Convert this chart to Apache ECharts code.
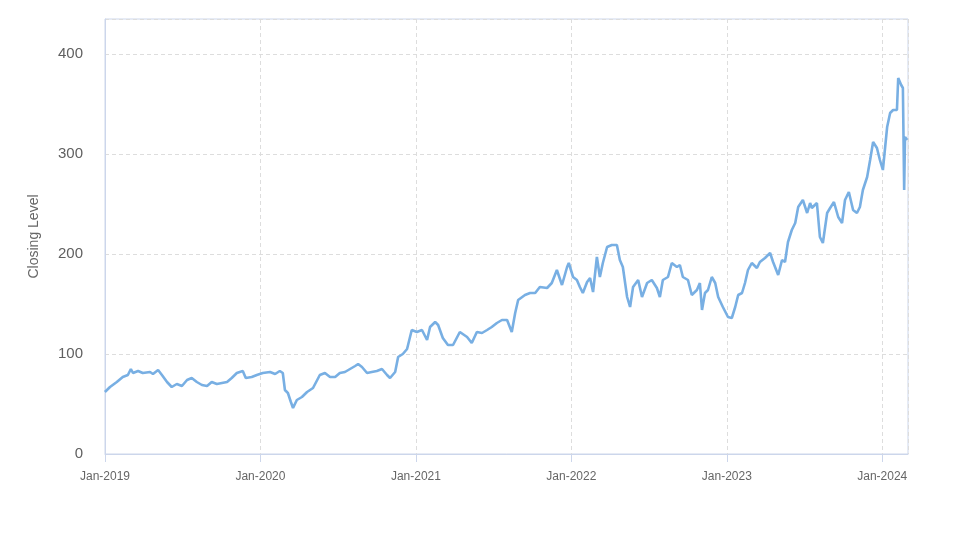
<!DOCTYPE html>
<html>
<head>
<meta charset="utf-8">
<script src="https://cdn.jsdelivr.net/npm/echarts@6/dist/echarts.min.js"></script>
<style>
html,body{margin:0;padding:0;background:#fff;}
#chart{width:973px;height:547px;}
</style>
</head>
<body>
<div id="chart"></div>
<script>
const dates = [
'2019-01-01','2019-01-13','2019-01-29','2019-02-12','2019-02-24','2019-03-03','2019-03-08','2019-03-20','2019-03-31','2019-04-17',
'2019-04-24','2019-05-06','2019-05-15','2019-05-27','2019-06-07','2019-06-19','2019-07-01','2019-07-13','2019-07-24','2019-08-05',
'2019-08-17','2019-08-29','2019-09-09','2019-09-21','2019-10-03','2019-10-15','2019-10-26','2019-11-07','2019-11-21','2019-11-28',
'2019-12-12','2019-12-24','2020-01-07','2020-01-24','2020-02-05','2020-02-16','2020-02-23','2020-02-28','2020-03-06','2020-03-13',
'2020-03-18','2020-03-27','2020-04-08','2020-04-20','2020-05-04','2020-05-20','2020-06-01','2020-06-13','2020-06-25','2020-07-06',
'2020-07-18','2020-07-30','2020-08-11','2020-08-18','2020-08-27','2020-09-08','2020-09-19','2020-10-01','2020-10-13','2020-10-25',
'2020-11-01','2020-11-13','2020-11-20','2020-12-01','2020-12-11','2020-12-22','2021-01-03','2021-01-15','2021-01-27','2021-02-03',
'2021-02-15','2021-02-22','2021-03-05','2021-03-17','2021-03-29','2021-04-14','2021-05-01','2021-05-12','2021-05-24','2021-06-05',
'2021-06-17','2021-06-28','2021-07-10','2021-07-22','2021-08-03','2021-08-14','2021-08-22','2021-08-29','2021-09-14','2021-09-26',
'2021-10-08','2021-10-19','2021-11-05','2021-11-16','2021-11-28','2021-12-10','2021-12-22','2021-12-26','2022-01-05','2022-01-14',
'2022-01-21','2022-01-28','2022-02-07','2022-02-14','2022-02-21','2022-03-02','2022-03-09','2022-03-16','2022-03-26','2022-04-06',
'2022-04-18','2022-04-25','2022-05-02','2022-05-12','2022-05-19','2022-05-26','2022-06-07','2022-06-16','2022-06-28','2022-07-09',
'2022-07-21','2022-07-28','2022-08-04','2022-08-16','2022-08-25','2022-09-06','2022-09-13','2022-09-20','2022-10-02','2022-10-11',
'2022-10-23','2022-10-30','2022-11-04','2022-11-11','2022-11-18','2022-11-27','2022-12-05','2022-12-12','2022-12-23','2023-01-04',
'2023-01-13','2023-01-21','2023-01-28','2023-02-06','2023-02-13','2023-02-20','2023-03-01','2023-03-13','2023-03-20','2023-04-01',
'2023-04-13','2023-04-20','2023-05-02','2023-05-11','2023-05-18','2023-05-25','2023-06-03','2023-06-11','2023-06-18','2023-06-29',
'2023-07-09','2023-07-16','2023-07-20','2023-08-01','2023-08-08','2023-08-15','2023-08-25','2023-09-01','2023-09-10','2023-09-20',
'2023-09-29','2023-10-06','2023-10-15','2023-10-25','2023-11-03','2023-11-10','2023-11-17','2023-11-27','2023-12-04','2023-12-11',
'2023-12-20','2023-12-27','2024-01-03','2024-01-13','2024-01-20','2024-01-27','2024-02-05','2024-02-08','2024-02-15','2024-02-19',
'2024-02-22','2024-02-24','2024-02-29'
];
const closing = [
62,67,72,77,79,85,81,83,81,82,
80,84,79,72,67,70,68,74,76,72,
69,68,72,70,71,72,76,81,83,76,
77,79,81,82,80,83,81,64,61,52,
46,54,57,62,66,79,81,77,77,81,
82,85,88,90,87,81,82,83,85,79,
76,82,97,100,105,124,122,124,114,127,
132,129,116,109,109,122,117,111,122,121,
124,127,131,134,134,122,141,154,159,161,
161,167,166,171,184,169,187,191,177,174,
167,161,172,176,162,197,177,191,207,209,
209,194,187,157,147,167,174,157,171,174,
166,157,174,177,191,187,189,177,174,159,
164,171,144,161,164,177,171,157,147,137,
136,147,159,161,171,184,191,186,192,196,
201,192,179,194,192,212,224,231,247,254,
241,251,246,251,217,211,241,246,252,237,
231,254,262,244,241,247,264,277,294,312,
306,294,284,327,341,344,344,376,369,366,
264,317,314
];
const yTicks = [0, 100, 200, 300, 400];
const xTickYears = [2019, 2020, 2021, 2022, 2023, 2024];
const yAxisName = 'Closing Level';

const DAY = 86400000;
const YEAR = 365.25 * DAY;
const seriesData = dates.map((d, i) => {
  const p = d.split('-').map(Number);
  return [Date.UTC(p[0], p[1] - 1, p[2]), closing[i]];
});
const MONTHS = ['Jan','Feb','Mar','Apr','May','Jun','Jul','Aug','Sep','Oct','Nov','Dec'];

const chart = echarts.init(document.getElementById('chart'), null, {renderer: 'canvas'});
chart.setOption({
  backgroundColor: '#ffffff',
  animation: false,
  textStyle: {fontFamily: 'Liberation Sans, Arial, sans-serif'},
  grid: {left: 105, right: 65, top: 19, bottom: 93, show: true, borderColor: '#ccd6eb', borderWidth: 1, containLabel: false},
  xAxis: {
    type: 'value',
    min: 49 * YEAR,
    max: Date.UTC(2024, 2, 2),
    interval: YEAR,
    axisLine: {show: true, lineStyle: {color: '#ccd6eb', width: 1}},
    axisTick: {show: true, length: 8, lineStyle: {color: '#ccd6eb'}},
    axisLabel: {
      color: '#666666', fontSize: 12, margin: 17,
      showMaxLabel: false,
      formatter: function (v) {
        const d = new Date(v + 15 * DAY);
        const y = d.getUTCFullYear();
        if (xTickYears.indexOf(y) < 0) return '';
        if (Math.abs(v - Date.UTC(y, 0, 1)) > 3 * DAY) return '';
        return MONTHS[0] + '-' + y;
      }
    },
    splitLine: {show: true, lineStyle: {color: '#dddddd', type: [4, 3], width: 1}}
  },
  yAxis: {
    type: 'value',
    min: 0, max: 435, interval: 100,
    name: yAxisName,
    nameLocation: 'middle',
    nameGap: 64,
    nameTextStyle: {color: '#666666', fontSize: 14},
    axisLine: {show: true, lineStyle: {color: '#ccd6eb', width: 1}},
    axisTick: {show: false},
    axisLabel: {
      color: '#606060', fontSize: 15, margin: 22,
      formatter: function (v) { return yTicks.indexOf(v) >= 0 ? String(v) : ''; }
    },
    splitLine: {show: true, lineStyle: {color: '#dddddd', type: [4, 3], width: 1}}
  },
  series: [{
    type: 'line',
    data: seriesData,
    showSymbol: false,
    symbol: 'none',
    smooth: false,
    lineStyle: {color: '#78afe3', width: 2.6},
    itemStyle: {color: '#78afe3'}
  }]
});
</script>
</body>
</html>
